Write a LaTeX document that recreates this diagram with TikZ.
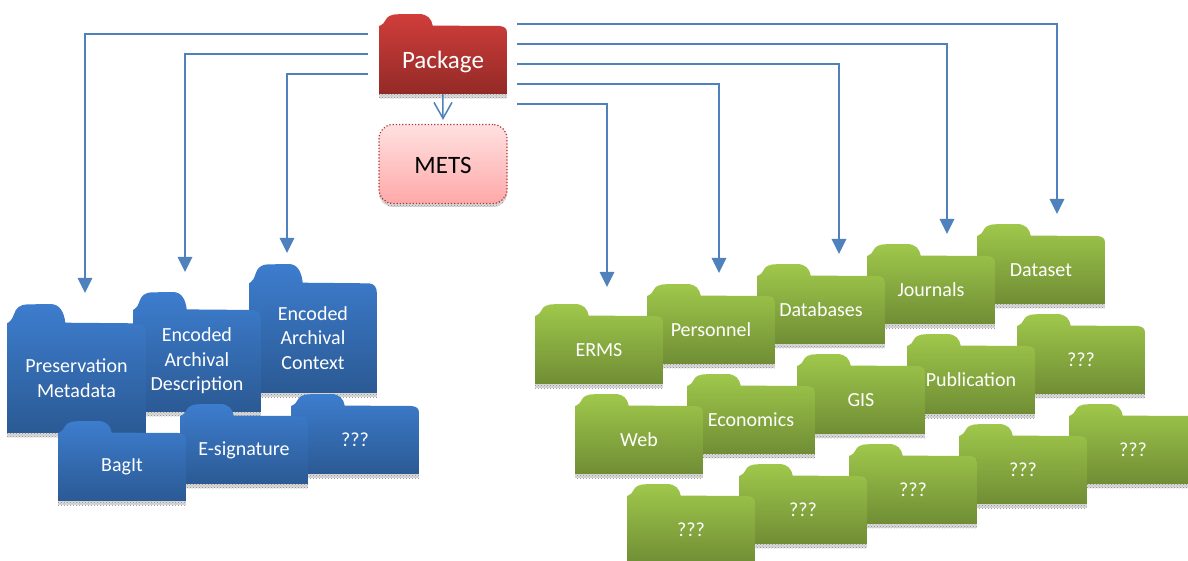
\documentclass[tikz,border=0pt]{standalone}
\usepackage{fontspec}
\setmainfont{Carlito}
\usetikzlibrary{arrows.meta,patterns}
\definecolor{conn}{HTML}{4F81BD}
\definecolor{fblueT}{HTML}{3D7DCE}
\definecolor{fblueB}{HTML}{2B5A94}
\definecolor{fgreenT}{HTML}{9FC84B}
\definecolor{fgreenB}{HTML}{708D35}
\definecolor{fredT}{HTML}{D03E3A}
\definecolor{fredB}{HTML}{932A27}
\tikzset{
  bluefolder/.style={top color=fblueT,bottom color=fblueB},
  greenfolder/.style={top color=fgreenT,bottom color=fgreenB},
  redfolder/.style={top color=fredT,bottom color=fredB},
  flabel/.style={text=white,align=center,font=\fontsize{20}{24.4}\selectfont,inner sep=0pt},
  shadowstrip/.style={fill=black!14,postaction={pattern=crosshatch dots,pattern color=black!45}},
  connector/.style={conn,line width=1.5pt,-{Triangle[length=15pt,width=14.5pt]}},
  openconn/.style={conn,line width=1.5pt,-{Straight Barb[length=16pt,width=18pt,line width=1.5pt]},shorten >=4pt}
}
% id, x, y(top), w, h, style, text
\newcommand{\folder}[7]{%
  \begin{scope}[shift={(#2,#3)},x=#4*0.01pt,y=-#5*0.01pt]
    \path[shadowstrip] (0,100) rectangle (100,{100+450/#5});
    \shade[#6] (0,100) -- (0,15) -- (1.5,14) .. controls (3,13) and (4,11) .. (5,8)
      .. controls (6.5,3) and (9,0.5) .. (15,0.3) -- (31,0)
      .. controls (38,0) and (41,6) .. (42,14.5) -- (94,15)
      .. controls (98,15.5) and (100,18) .. (100,23) -- (100,100) -- cycle;
    \node[flabel,minimum width=#4pt,minimum height=0.85*#5pt] (#1) at (50,57.4) {#7};
  \end{scope}}
\begin{document}
\begin{tikzpicture}[x=1pt,y=-1pt]
\clip (0,0) rectangle (1188,561);
\fill[white] (0,0) rectangle (1188,561);
% blue
\folder{eac}{249}{264}{128}{129}{bluefolder}{Encoded\\Archival\\Context}
\folder{ead}{133}{292}{128}{120}{bluefolder}{Encoded\\Archival\\Description}
\folder{pres}{7}{304}{139}{129}{bluefolder}{Preservation\\Metadata}
\folder{bunk}{291}{394}{128}{80}{bluefolder}{???}
\folder{esig}{180}{404}{128}{80}{bluefolder}{E-signature}
\folder{bagit}{58}{421}{128}{80}{bluefolder}{BagIt}
% green rows
\folder{dataset}{977}{224}{128}{80}{greenfolder}{Dataset}
\folder{journals}{867}{244}{128}{80}{greenfolder}{Journals}
\folder{databases}{757}{264}{128}{80}{greenfolder}{Databases}
\folder{personnel}{647}{284}{128}{80}{greenfolder}{Personnel}
\folder{erms}{535}{304}{128}{80}{greenfolder}{ERMS}
\folder{gunka}{1017}{314}{128}{80}{greenfolder}{???}
\folder{publication}{907}{334}{128}{80}{greenfolder}{Publication}
\folder{gis}{797}{354}{128}{80}{greenfolder}{GIS}
\folder{economics}{687}{374}{128}{80}{greenfolder}{Economics}
\folder{web}{575}{394}{128}{80}{greenfolder}{Web}
\folder{gunkb}{1069}{404}{128}{80}{greenfolder}{???}
\folder{gunkc}{959}{424}{128}{80}{greenfolder}{???}
\folder{gunkd}{849}{444}{128}{80}{greenfolder}{???}
\folder{gunke}{739}{464}{128}{80}{greenfolder}{???}
\folder{gunkf}{627}{484}{128}{80}{greenfolder}{???}
% package
\folder{pkg}{379}{14}{128}{80}{redfolder}{\fontsize{25}{28}\selectfont\raisebox{-2pt}[\height][\depth]{Package}}
\path[shadowstrip,rounded corners=14pt] (379,130) rectangle (507,207);
\node[draw=fredT!85!black,dotted,line width=1.2pt,rounded corners=14pt,
  top color=red!12,bottom color=red!34,minimum width=128pt,minimum height=79pt,
  inner sep=0pt,font=\fontsize{25}{28}\selectfont] (mets) at (443,164) {\raisebox{-1pt}[\height][\depth]{METS}};
% connector ends
\coordinate (l1) at (368,34); \coordinate (l1e) at (85,293);
\coordinate (l2) at (368,54); \coordinate (l2e) at (185,272);
\coordinate (l3) at (368,74); \coordinate (l3e) at (287,253);
\coordinate (r1) at (517,24); \coordinate (r1e) at (1057,214);
\coordinate (r2) at (517,44); \coordinate (r2e) at (947,234);
\coordinate (r3) at (517,64); \coordinate (r3e) at (839,254);
\coordinate (r4) at (517,84); \coordinate (r4e) at (719,273);
\coordinate (r5) at (517,104); \coordinate (r5e) at (607,287);
\foreach \a in {l1,l2,l3,r1,r2,r3,r4,r5}{\draw[connector] (\a) -| (\a e);}
\draw[openconn] (pkg.south) -- (mets.north);
\end{tikzpicture}
\end{document}
